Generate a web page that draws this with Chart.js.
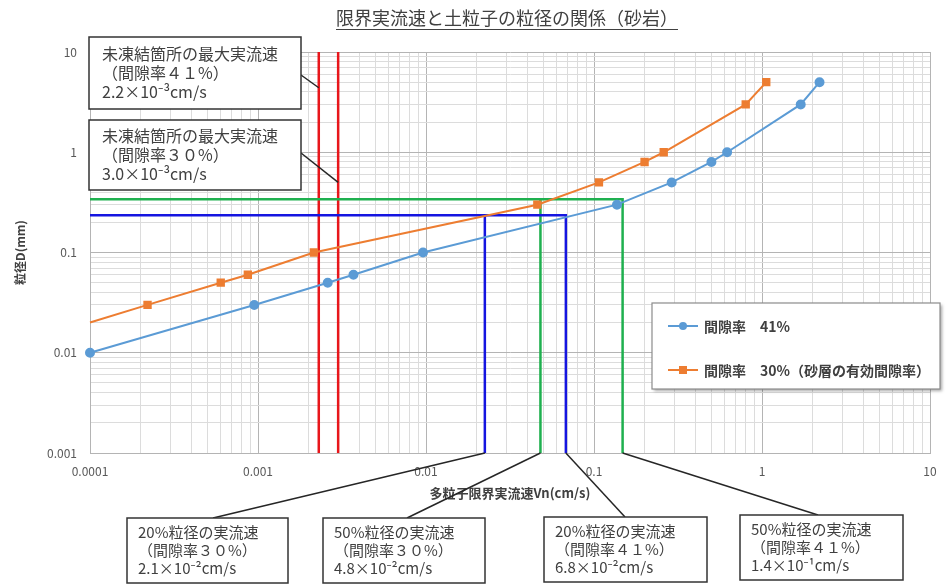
<!DOCTYPE html>
<html lang="ja">
<head>
<meta charset="utf-8">
<title>限界実流速と土粒子の粒径の関係（砂岩）</title>
<script src="https://cdn.jsdelivr.net/npm/chart.js@4.4.1/dist/chart.umd.min.js"></script>
<style>
  body { margin: 0; background: #fff; }
  canvas { display: block; }
</style>
</head>
<body>
<canvas id="grainChart" width="949" height="585"></canvas>
<script>
// 間隙率 41%
var porosity41X = [0.0001, 0.00095, 0.0026, 0.0037, 0.0096, 0.137, 0.29, 0.50, 0.62, 1.7, 2.2];
var porosity41Y = [0.01, 0.03, 0.05, 0.06, 0.1, 0.3, 0.5, 0.8, 1, 3, 5];
// 間隙率 30%（砂層の有効間隙率）
var porosity30X = [0.0001, 0.00022, 0.0006, 0.00087, 0.00215, 0.046, 0.107, 0.2, 0.26, 0.8, 1.06];
var porosity30Y = [0.02, 0.03, 0.05, 0.06, 0.1, 0.3, 0.5, 0.8, 1, 3, 5];

var xTickLabels = ['0.0001', '0.001', '0.01', '0.1', '1', '10'];
var yTickLabels = ['0.001', '0.01', '0.1', '1', '10'];

// 20% / 50% 粒径 (mm) と、その実流速 [間隙率30%, 間隙率41%] (cm/s)
var d20 = 0.235;
var d50 = 0.34;
var v20 = [0.0224, 0.068];
var v50 = [0.048, 0.148];
// 未凍結箇所の最大実流速 [間隙率41%, 間隙率30%]
var vMaxUnfrozen = [0.0023, 0.003];

var xMin = 0.0001, xMax = 10, yMin = 0.001, yMax = 10;

function points(xs, ys) {
    return xs.map(function(x, i) { return {x: x, y: ys[i]}; });
}

function logTicks(lo, hi) {
    var t = [];
    for (var e = lo; e < hi; e++) {
        for (var m = 1; m <= 9; m++) {
            t.push({value: Number((m * Math.pow(10, e)).toPrecision(3))});
        }
    }
    t.push({value: Math.pow(10, hi)});
    return t;
}

function isDecade(v) {
    var l = Math.log10(v);
    return Math.abs(l - Math.round(l)) < 1e-6;
}

var gridColor = function(c) {
    return c.tick && isDecade(c.tick.value) ? '#b4b4b4' : '#dcdcdc';
};

var notes = [
    {lines: ['未凍結箇所の最大実流速', '（間隙率４１%）', '2.2×10⁻³cm/s'], box: [89, 37, 212, 72], anchor: [301, 75], target: [vMaxUnfrozen[0], 4.4], font: 16},
    {lines: ['未凍結箇所の最大実流速', '（間隙率３０%）', '3.0×10⁻³cm/s'], box: [89, 120, 212, 70], anchor: [301, 153], target: [vMaxUnfrozen[1], 0.5], font: 16},
    {lines: ['20%粒径の実流速', '（間隙率３０%）', '2.1×10⁻²cm/s'], box: [127, 518, 161, 65], anchor: [213, 518], target: [v20[0], yMin], font: 15},
    {lines: ['50%粒径の実流速', '（間隙率３０%）', '4.8×10⁻²cm/s'], box: [323, 518, 162, 65], anchor: [407, 518], target: [v50[0], yMin], font: 15},
    {lines: ['20%粒径の実流速', '（間隙率４１%）', '6.8×10⁻²cm/s'], box: [544, 517, 163, 65], anchor: [625, 517], target: [v20[1], yMin], font: 15},
    {lines: ['50%粒径の実流速', '（間隙率４１%）', '1.4×10⁻¹cm/s'], box: [740, 515, 163, 65], anchor: [818, 515], target: [v50[1], yMin], font: 15}
];

var jpFont = '"Noto Sans CJK JP", "Noto Sans", sans-serif';

var notePlugin = {
    id: 'notes',
    beforeDraw: function(chart) {
        var ctx = chart.ctx;
        ctx.save();
        ctx.fillStyle = '#fff';
        ctx.fillRect(0, 0, chart.width, chart.height);
        ctx.restore();
    },
    afterDraw: function(chart) {
        var ctx = chart.ctx;
        var xs = chart.scales.x, ys = chart.scales.y;
        ctx.save();

        // title with underline
        var title = '限界実流速と土粒子の粒径の関係（砂岩）';
        ctx.font = '18px ' + jpFont;
        ctx.fillStyle = '#404040';
        ctx.textAlign = 'center';
        ctx.textBaseline = 'middle';
        ctx.fillText(title, 507, 18);
        var tw = ctx.measureText(title).width;
        ctx.strokeStyle = '#404040';
        ctx.lineWidth = 1;
        ctx.beginPath();
        ctx.moveTo(507 - tw / 2, 29.5);
        ctx.lineTo(507 + tw / 2, 29.5);
        ctx.stroke();

        // leader lines
        ctx.strokeStyle = '#262626';
        ctx.lineWidth = 1.5;
        notes.forEach(function(n) {
            ctx.beginPath();
            ctx.moveTo(n.anchor[0], n.anchor[1]);
            ctx.lineTo(xs.getPixelForValue(n.target[0]), ys.getPixelForValue(n.target[1]));
            ctx.stroke();
        });

        // boxes
        ctx.textAlign = 'left';
        notes.forEach(function(n) {
            var b = n.box;
            ctx.fillStyle = '#fff';
            ctx.fillRect(b[0], b[1], b[2], b[3]);
            ctx.strokeStyle = '#333';
            ctx.lineWidth = 1.5;
            ctx.strokeRect(b[0], b[1], b[2], b[3]);
            ctx.fillStyle = '#404040';
            ctx.font = n.font + 'px ' + jpFont;
            var lh = n.font + 3;
            n.lines.forEach(function(s, i) {
                ctx.fillText(s, b[0] + (n.font === 16 ? 13 : 11), b[1] + b[3] / 2 + (i - 1) * lh);
            });
        });

        // legend
        ctx.save();
        ctx.shadowColor = 'rgba(0,0,0,0.35)';
        ctx.shadowOffsetX = 2;
        ctx.shadowOffsetY = 2;
        ctx.shadowBlur = 3;
        ctx.fillStyle = '#fff';
        ctx.fillRect(652, 303, 288, 86);
        ctx.restore();
        ctx.strokeStyle = '#8c8c8c';
        ctx.lineWidth = 1.2;
        ctx.strokeRect(652, 303, 288, 86);
        var legendRows = [326, 370];
        [0, 1].forEach(function(i) {
            var ds = chart.data.datasets[i];
            var y = legendRows[i];
            ctx.strokeStyle = ds.borderColor;
            ctx.lineWidth = 2;
            ctx.beginPath();
            ctx.moveTo(668, y);
            ctx.lineTo(698, y);
            ctx.stroke();
            ctx.fillStyle = ds.borderColor;
            if (ds.pointStyle === 'rect') {
                ctx.fillRect(683 - 4, y - 4, 8, 8);
            } else {
                ctx.beginPath();
                ctx.arc(683, y, 4, 0, Math.PI * 2);
                ctx.fill();
            }
            ctx.fillStyle = '#404040';
            ctx.font = 'bold 14px ' + jpFont;
            ctx.fillText(ds.label, 704, y + 1);
        });

        ctx.restore();
    }
};

var refLine = function(label, color, data) {
    return {
        label: label, data: data, showLine: true, borderColor: color, backgroundColor: color,
        borderWidth: 2.5, pointRadius: 0, pointHoverRadius: 0, tension: 0
    };
};

var ctx = document.getElementById('grainChart').getContext('2d');
var grainChart = new Chart(ctx, {
    type: 'scatter',
    data: {
        datasets: [{
            label: '間隙率　41%',
            data: points(porosity41X, porosity41Y),
            showLine: true,
            borderColor: '#5b9bd5',
            backgroundColor: '#5b9bd5',
            borderWidth: 2,
            pointStyle: 'circle',
            pointRadius: 4,
            clip: false
        }, {
            label: '間隙率　30%（砂層の有効間隙率）',
            data: points(porosity30X, porosity30Y),
            showLine: true,
            borderColor: '#ed7d31',
            backgroundColor: '#ed7d31',
            borderWidth: 2,
            pointStyle: 'rect',
            pointRadius: porosity30X.map(function(v, i) { return i === 0 ? 0 : 4.5; }),
            clip: false
        },
        refLine('d20 41%', '#1515e0', [{x: xMin, y: d20}, {x: v20[1], y: d20}, {x: v20[1], y: yMin}]),
        refLine('d20 30%', '#1515e0', [{x: v20[0], y: d20}, {x: v20[0], y: yMin}]),
        refLine('d50 41%', '#1fb04f', [{x: xMin, y: d50}, {x: v50[1], y: d50}, {x: v50[1], y: yMin}]),
        refLine('d50 30%', '#1fb04f', [{x: v50[0], y: d50}, {x: v50[0], y: yMin}]),
        refLine('max 41%', '#e8161b', [{x: vMaxUnfrozen[0], y: yMax}, {x: vMaxUnfrozen[0], y: yMin}]),
        refLine('max 30%', '#e8161b', [{x: vMaxUnfrozen[1], y: yMax}, {x: vMaxUnfrozen[1], y: yMin}])
        ]
    },
    options: {
        responsive: false,
        animation: false,
        layout: { padding: {left: 10, right: 19, top: 52, bottom: 80} },
        plugins: {
            legend: { display: false },
            tooltip: { enabled: false },
            title: { display: false }
        },
        scales: {
            x: {
                type: 'logarithmic',
                min: xMin,
                max: xMax,
                afterBuildTicks: function(scale) { scale.ticks = logTicks(-4, 1); },
                afterFit: function(scale) { scale.height = 52; },
                ticks: {
                    autoSkip: false,
                    maxRotation: 0,
                    padding: 11,
                    color: '#595959',
                    font: {family: jpFont, size: 12},
                    callback: function(value) {
                        return isDecade(value) ? xTickLabels[Math.round(Math.log10(value)) + 4] : '';
                    }
                },
                grid: { drawTicks: false, color: gridColor },
                border: { color: '#b4b4b4' },
                title: {
                    display: true,
                    text: '多粒子限界実流速Vn(cm/s)',
                    color: '#404040',
                    font: {family: jpFont, size: 13, weight: 'bold'},
                    padding: {top: 0, bottom: 4}
                }
            },
            y: {
                type: 'logarithmic',
                min: yMin,
                max: yMax,
                afterBuildTicks: function(scale) { scale.ticks = logTicks(-3, 1); },
                afterFit: function(scale) { scale.width = 80; },
                ticks: {
                    autoSkip: false,
                    padding: 13,
                    color: '#595959',
                    font: {family: jpFont, size: 12},
                    callback: function(value) {
                        return isDecade(value) ? yTickLabels[Math.round(Math.log10(value)) + 3] : '';
                    }
                },
                grid: { drawTicks: false, color: gridColor },
                border: { color: '#b4b4b4' },
                title: {
                    display: true,
                    text: '粒径D(mm)',
                    color: '#404040',
                    font: {family: jpFont, size: 12, weight: 'bold'},
                    padding: {top: 3, bottom: 0}
                }
            }
        }
    },
    plugins: [notePlugin]
});
</script>
</body>
</html>
